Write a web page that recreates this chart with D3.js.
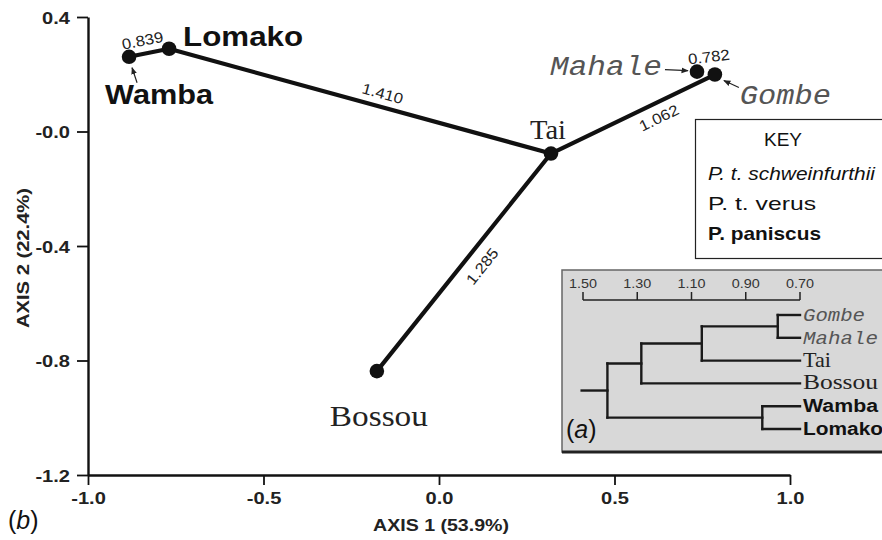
<!DOCTYPE html>
<html lang="en">
<head>
<meta charset="UTF-8">
<title>Chimpanzee and bonobo populations</title>
<script src="https://d3js.org/d3.v7.min.js"></script>
<style>
  body { margin: 0; background: #fff; }
  svg { display: block; }
  .axis path, .axis line { stroke: #111; }
</style>
</head>
<body>
<svg width="882" height="540"></svg>
<script>
// ---- data: panel (b), ordination ----
const populations = ["Wamba", "Lomako", "Tai", "Bossou", "Mahale", "Gombe"];
const subspecies  = ["paniscus", "paniscus", "verus", "verus", "schweinfurthii", "schweinfurthii"];
const axis1Scores = [-0.883, -0.769, 0.319, -0.177, 0.735, 0.786];
const axis2Scores = [0.261, 0.289, -0.077, -0.837, 0.209, 0.199];
const links = [["Wamba", "Lomako"], ["Lomako", "Tai"], ["Bossou", "Tai"], ["Tai", "Gombe"]];
const linkDistances = ["0.839", "1.410", "1.285", "1.062"];
const mahaleGombeDistance = "0.782";
const xTicks = [-1.0, -0.5, 0.0, 0.5, 1.0];
const xTickLabels = ["-1.0", "-0.5", "0.0", "0.5", "1.0"];
const yTicks = [0.4, 0.0, -0.4, -0.8, -1.2];
const yTickLabels = ["0.4", "-0.0", "-0.4", "-0.8", "-1.2"];
const keyLabels = ["P. t. schweinfurthii", "P. t. verus", "P. paniscus"];

// ---- data: panel (a), dendrogram ----
const leafOrder = ["Gombe", "Mahale", "Tai", "Bossou", "Wamba", "Lomako"];
const treeTicks = [1.50, 1.30, 1.10, 0.90, 0.70];
const treeTickLabels = ["1.50", "1.30", "1.10", "0.90", "0.70"];
const clusterTree = {
  h: 1.410, children: [
    { h: 1.285, children: [
      { h: 1.062, children: [
        { h: 0.782, children: [{ name: "Gombe" }, { name: "Mahale" }] },
        { name: "Tai" }] },
      { name: "Bossou" }] },
    { h: 0.839, children: [{ name: "Wamba" }, { name: "Lomako" }] }
  ]
};

// ---- helpers ----
const svg = d3.select("svg");
const SANS = "'Liberation Sans', Arial, sans-serif";
const SERIF = "'Liberation Serif', 'Times New Roman', serif";
const MONO = "'Liberation Mono', 'Courier New', monospace";

function addText(g, str, x, y, o = {}) {
  const t = g.append("text")
    .attr("x", x).attr("y", y)
    .attr("font-family", o.family || SANS)
    .attr("font-size", o.size || 15)
    .attr("font-weight", o.weight || "normal")
    .attr("font-style", o.style || "normal")
    .attr("fill", o.fill || "#111")
    .attr("text-anchor", o.anchor || "start")
    .text(str);
  if (o.width) t.attr("textLength", o.width).attr("lengthAdjust", "spacingAndGlyphs");
  if (o.rotate) t.attr("transform", `rotate(${o.rotate},${x},${y})`);
  return t;
}

const styleOf = {
  schweinfurthii: { family: MONO, style: "italic", weight: "normal", fill: "#555" },
  verus: { family: SERIF, style: "normal", weight: "normal", fill: "#222" },
  paniscus: { family: SANS, style: "normal", weight: "bold", fill: "#111" }
};

// ---- panel (b) ----
const x = d3.scaleLinear().domain([-1, 1]).range([88, 790]);
const y = d3.scaleLinear().domain([-1.2, 0.4]).range([475, 17]);

const pos = {};
populations.forEach((p, i) => { pos[p] = [x(axis1Scores[i]), y(axis2Scores[i])]; });

const yAxis = svg.append("g").attr("class", "axis")
  .attr("transform", "translate(88,0)")
  .call(d3.axisLeft(y).tickValues(yTicks).tickFormat((d, i) => yTickLabels[i])
    .tickSize(11).tickSizeOuter(0).tickPadding(7));
const xAxis = svg.append("g").attr("class", "axis")
  .attr("transform", "translate(0,475)")
  .call(d3.axisBottom(x).tickValues(xTicks).tickFormat((d, i) => xTickLabels[i])
    .tickSize(10).tickSizeOuter(0).tickPadding(7));
svg.selectAll(".axis path").attr("stroke-width", 2.4);
svg.selectAll(".axis line").attr("stroke-width", 1.8);
svg.selectAll(".axis text")
  .attr("font-family", SANS).attr("font-weight", "bold").attr("font-size", 17).attr("fill", "#222")
  .each(function () {
    // the original lettering is a little wider than Liberation Sans
    d3.select(this).attr("textLength", this.getComputedTextLength() * 1.18)
      .attr("lengthAdjust", "spacingAndGlyphs");
  });
yAxis.selectAll("text").attr("dy", "0.36em");

addText(svg, "AXIS 1 (53.9%)", 441, 531, { weight: "bold", anchor: "middle", size: 17, fill: "#222", width: 136 });
addText(svg, "AXIS 2 (22.4%)", 29, 258, { weight: "bold", anchor: "middle", size: 17, fill: "#222", width: 140, rotate: -90 });

// "(b)"
const bLab = svg.append("text").attr("x", 8).attr("y", 529)
  .attr("font-family", SANS).attr("font-size", 25).attr("fill", "#111");
bLab.append("tspan").text("(");
bLab.append("tspan").attr("font-style", "italic").text("b");
bLab.append("tspan").text(")");

// links between populations
svg.append("g").selectAll("line").data(links).join("line")
  .attr("x1", d => pos[d[0]][0]).attr("y1", d => pos[d[0]][1])
  .attr("x2", d => pos[d[1]][0]).attr("y2", d => pos[d[1]][1])
  .attr("stroke", "#111").attr("stroke-width", 4.2).attr("stroke-linecap", "round");

// distance labels along the links: position t along link, offset along normal
const linkLabelPlace = [[0.4, -13], [0.55, -13], [0.53, 17], [0.62, 15]];
links.forEach((l, i) => {
  const [x0, y0] = pos[l[0]], [x1, y1] = pos[l[1]];
  const dx = x1 - x0, dy = y1 - y0, len = Math.hypot(dx, dy);
  const [t, off] = linkLabelPlace[i];
  const cx = x0 + dx * t + (-dy / len) * off;
  const cy = y0 + dy * t + (dx / len) * off;
  const ang = Math.atan2(dy, dx) * 180 / Math.PI;
  addText(svg, linkDistances[i], cx, cy + 5, { anchor: "middle", size: 15, fill: "#222", width: 42 })
    .attr("transform", `rotate(${ang},${cx},${cy})`);
});
{
  const mx = (pos.Mahale[0] + pos.Gombe[0]) / 2, my = (pos.Mahale[1] + pos.Gombe[1]) / 2;
  addText(svg, mahaleGombeDistance, mx + 3, my - 11, { anchor: "middle", size: 15, fill: "#222", width: 42 })
    .attr("transform", `rotate(-7,${mx + 3},${my - 16})`);
}

// points
svg.append("g").selectAll("circle").data(populations).join("circle")
  .attr("cx", d => pos[d][0]).attr("cy", d => pos[d][1])
  .attr("r", 7.3).attr("fill", "#111");

// population labels
const mainLabel = {
  Wamba:  { dx: -24, dy: 47, size: 27, width: 108 },
  Lomako: { dx: 14, dy: -3, size: 27, width: 120 },
  Tai:    { dx: -21, dy: -15, size: 27, width: 36 },
  Bossou: { dx: -47, dy: 55, size: 29, width: 98 },
  Mahale: { dx: -147, dy: 3, size: 27, width: 112 },
  Gombe:  { dx: 25, dy: 29, size: 27, width: 91 }
};
populations.forEach((p, i) => {
  const c = mainLabel[p], s = styleOf[subspecies[i]];
  addText(svg, p, pos[p][0] + c.dx, pos[p][1] + c.dy, Object.assign({}, s, { size: c.size, width: c.width }));
});

// small pointer arrows
svg.append("defs").append("marker")
  .attr("id", "head").attr("viewBox", "0 0 10 10").attr("refX", 9).attr("refY", 5)
  .attr("markerWidth", 6).attr("markerHeight", 6).attr("orient", "auto")
  .append("path").attr("d", "M0,1 L10,5 L0,9 Z").attr("fill", "#222");
const arrows = [
  [[pos.Wamba[0] + 8, pos.Wamba[1] + 26], [pos.Wamba[0] + 3, pos.Wamba[1] + 11]],
  [[pos.Mahale[0] - 32, pos.Mahale[1] - 2], [pos.Mahale[0] - 9, pos.Mahale[1] - 1]],
  [[pos.Gombe[0] + 24, pos.Gombe[1] + 13], [pos.Gombe[0] + 9, pos.Gombe[1] + 6]]
];
svg.append("g").selectAll("line").data(arrows).join("line")
  .attr("x1", d => d[0][0]).attr("y1", d => d[0][1])
  .attr("x2", d => d[1][0]).attr("y2", d => d[1][1])
  .attr("stroke", "#222").attr("stroke-width", 1.2).attr("marker-end", "url(#head)");

// key
const key = svg.append("g");
key.append("rect").attr("x", 695.5).attr("y", 119.5).attr("width", 200).attr("height", 139)
  .attr("fill", "#fff").attr("stroke", "#222").attr("stroke-width", 1.2);
addText(key, "KEY", 783, 146, { anchor: "middle", size: 19, fill: "#111" });
const keyStyles = [{ style: "italic" }, {}, { weight: "bold" }];
const keyWidths = [167, 108, 113];
keyLabels.forEach((k, i) => {
  addText(key, k, 708, 180 + i * 30, Object.assign({ size: 19, fill: "#111", width: keyWidths[i] }, keyStyles[i]));
});

// ---- panel (a), inset dendrogram ----
const inset = svg.append("g");
inset.append("rect").attr("x", 562).attr("y", 270).attr("width", 330).attr("height", 182)
  .attr("fill", "#d8d8d8").attr("stroke", "#666").attr("stroke-width", 1.5);
inset.append("line").attr("x1", 562).attr("x2", 882).attr("y1", 452).attr("y2", 452)
  .attr("stroke", "#222").attr("stroke-width", 3);

const tx = d3.scaleLinear().domain([1.50, 0.70]).range([583, 800]);
const ty = d3.scalePoint().domain(leafOrder).range([315, 429]);

// distance scale bar
inset.append("line").attr("x1", tx(1.50)).attr("x2", tx(0.70)).attr("y1", 300).attr("y2", 300)
  .attr("stroke", "#222").attr("stroke-width", 1.5);
inset.selectAll(".tt").data(treeTicks).join("line")
  .attr("x1", d => tx(d)).attr("x2", d => tx(d)).attr("y1", 300).attr("y2", 292)
  .attr("stroke", "#222").attr("stroke-width", 1.5);
treeTicks.forEach((d, i) => addText(inset, treeTickLabels[i], tx(d), 288, { anchor: "middle", size: 13, fill: "#333", width: 28 }));

// layout of the clusters
const root = d3.hierarchy(clusterTree);
root.eachAfter(n => {
  if (!n.children) { n.px = tx(0.70); n.py = ty(n.data.name); }
  else {
    n.px = tx(n.data.h);
    n.py = (n.children[0].py + n.children[n.children.length - 1].py) / 2;
  }
});
const branches = [];
root.each(n => {
  if (n.children) {
    branches.push([n.px, n.children[0].py, n.px, n.children[n.children.length - 1].py]);
    n.children.forEach(c => branches.push([n.px, c.py, c.px, c.py]));
  }
});
branches.push([tx(1.505), root.py, root.px, root.py]);
inset.append("g").selectAll("line").data(branches).join("line")
  .attr("x1", d => d[0]).attr("y1", d => d[1]).attr("x2", d => d[2]).attr("y2", d => d[3])
  .attr("stroke", "#1a1a1a").attr("stroke-width", 2.4).attr("stroke-linecap", "square");

const leafWidths = { Gombe: 62, Mahale: 75, Tai: 28, Bossou: 75, Wamba: 75, Lomako: 80 };
leafOrder.forEach(name => {
  const s = styleOf[subspecies[populations.indexOf(name)]];
  addText(inset, name, tx(0.70) + 3, ty(name) + 6,
    Object.assign({}, s, { size: s.family === SERIF ? 21 : 18, width: leafWidths[name] }));
});

const aLab = inset.append("text").attr("x", 566).attr("y", 438)
  .attr("font-family", SANS).attr("font-size", 25).attr("fill", "#111");
aLab.append("tspan").text("(");
aLab.append("tspan").attr("font-style", "italic").text("a");
aLab.append("tspan").text(")");
</script>
</body>
</html>
